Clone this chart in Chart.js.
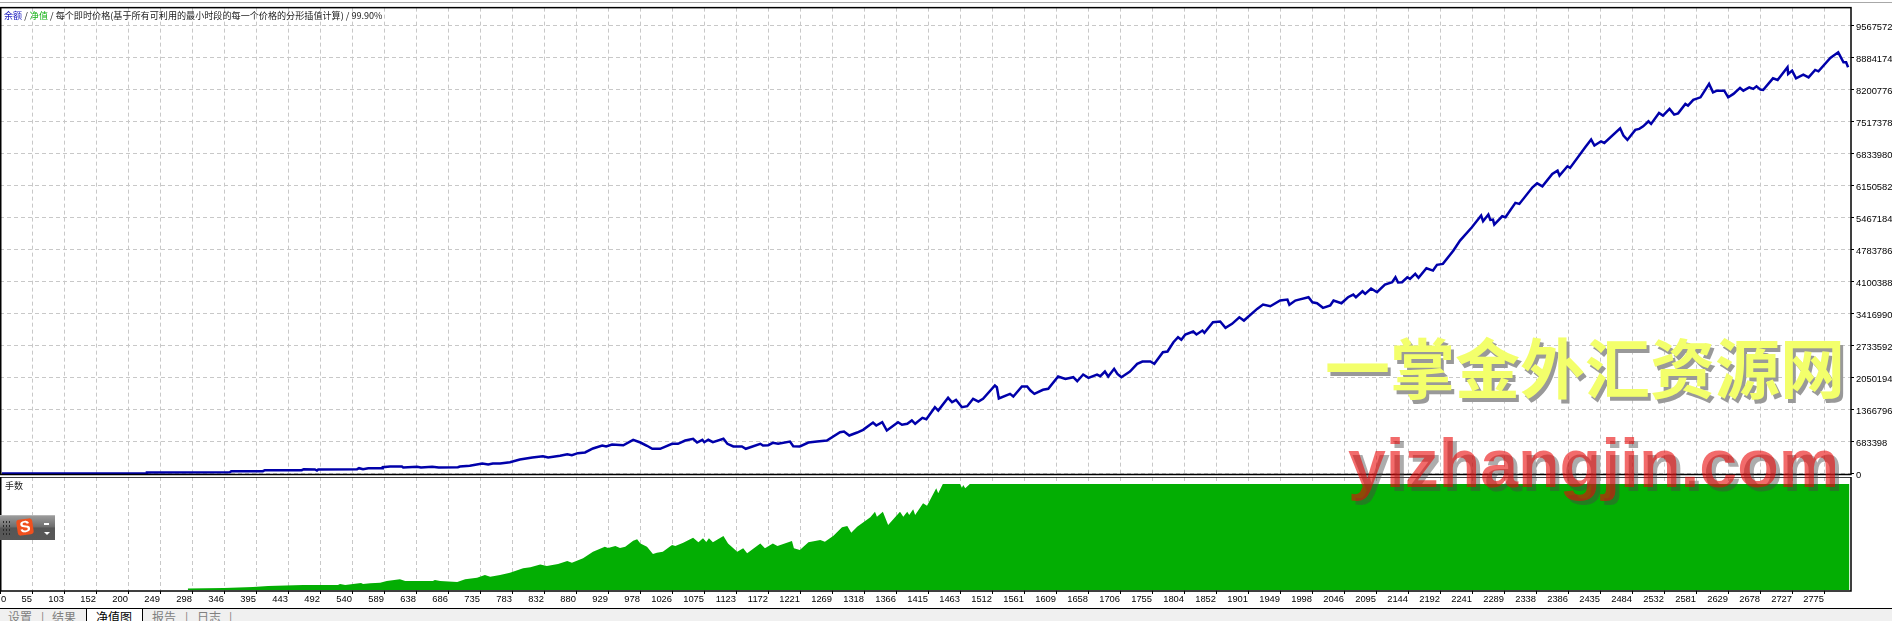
<!DOCTYPE html>
<html>
<head>
<meta charset="utf-8">
<title>净值图</title>
<script src="https://cdn.jsdelivr.net/npm/chart.js@4/dist/chart.umd.min.js"></script>
<style>
	html, body { margin: 0; padding: 0; background: #ffffff; width: 1892px; height: 621px; overflow: hidden; }
	body { position: relative; font-family: "Noto Sans CJK SC", sans-serif; }
	canvas { position: absolute; left: 0; display: block; }
	#graphCanvas { top: 0; }
	#lotsCanvas { top: 477px; }
	.overlay { position: absolute; white-space: nowrap; line-height: 1; }
	#topRule { position: absolute; left: 0; top: 2px; width: 1892px; height: 1px; background: #a8a8a8; }
	#legend { left: 4px; top: 11px; font-size: 9.1px; color: #222222; }
	#lotsLabel { left: 5px; top: 481px; font-size: 9px; color: #222222; }
	#zeroLabel { left: 1px; top: 593px; font: 9.4px "Liberation Sans", sans-serif; color: #000000; }
	#tabStrip { position: absolute; left: 0; top: 608px; width: 1892px; height: 13px; background: #f0f0f0; border-top: 1px solid #000000; overflow: hidden; }
	#tabStrip span { position: absolute; top: 2px; font-size: 12px; line-height: 1; color: #808080; white-space: nowrap; }
	#tabActive { position: absolute; left: 86px; top: -1px; width: 55px; height: 15px; background: #ffffff; border-left: 1px solid #000000; border-right: 1px solid #000000; }
	#brandCn { left: 1325px; top: 333px; font-size: 65px; font-weight: 700; color: #f3ff6b; text-shadow: 3px 4px 0 #999999; }
	#brandEn { left: 1348px; top: 429px; font-family: "Liberation Sans", sans-serif; font-size: 68px; font-weight: 700; color: rgba(233, 8, 8, 0.6); text-shadow: 4px 4px 0 rgba(70, 70, 70, 0.45); }
	#imeBar { position: absolute; left: 0; top: 515px; width: 55px; height: 25px; background: linear-gradient(#9a9a9a 0, #6e6e6e 45%, #565656 50%, #585858 100%); border-top: 1px solid #b5b5b5; box-sizing: border-box; }
	#imeDots { position: absolute; left: 2px; top: 4px; width: 8px; height: 16px; background: radial-gradient(circle, #2a2a2a 1px, transparent 1px) 0 0 / 3px 4px; }
	#imeLogo { position: absolute; left: 17px; top: 3px; width: 16px; height: 16px; background: #f0501e; border-radius: 3px; color: #ffffff; font: 700 16px/16px "Liberation Sans", sans-serif; text-align: center; transform: rotate(-8deg); }
	#imeMinus { position: absolute; left: 44px; top: 7px; width: 5px; height: 2px; background: #ffffff; }
	#imeArrow { position: absolute; left: 44px; top: 16px; width: 0; height: 0; border-left: 3px solid transparent; border-right: 3px solid transparent; border-top: 3px solid #ffffff; }
</style>
</head>
<body>
<div id="topRule"></div>
<canvas id="graphCanvas" width="1892" height="490"></canvas>
<canvas id="lotsCanvas" width="1892" height="131"></canvas>

<div id="legend" class="overlay"><span style="color:#2020c0">余额</span> / <span style="color:#10b010">净值</span> / 每个即时价格(基于所有可利用的最小时段的每一个价格的分形插值计算) / 99.90%</div>
<div id="lotsLabel" class="overlay">手数</div>
<div id="zeroLabel" class="overlay"></div>

<div id="imeBar"><div id="imeDots"></div><div id="imeLogo">S</div><div id="imeMinus"></div><div id="imeArrow"></div></div>

<div id="tabStrip">
	<div id="tabActive"></div>
	<span style="left:8px">设置</span><span style="left:41px">|</span><span style="left:52px">结果</span>
	<span style="left:96px;color:#000000">净值图</span>
	<span style="left:152px">报告</span><span style="left:185px">|</span><span style="left:197px">日志</span><span style="left:229px">|</span>
</div>

<div id="brandCn" class="overlay">一掌金外汇资源网</div>
<div id="brandEn" class="overlay">yizhangjin.com</div>

<script>
//	Tick labels
let xLabels = [0, 55, 103, 152, 200, 249, 298, 346, 395, 443, 492, 540, 589, 638, 686, 735, 783, 832, 880, 929, 978, 1026, 1075, 1123, 1172, 1221, 1269, 1318, 1366, 1415, 1463, 1512, 1561, 1609, 1658, 1706, 1755, 1804, 1852, 1901, 1949, 1998, 2046, 2095, 2144, 2192, 2241, 2289, 2338, 2386, 2435, 2484, 2532, 2581, 2629, 2678, 2727, 2775];
let yLabels = [0, 683398, 1366796, 2050194, 2733592, 3416990, 4100388, 4783786, 5467184, 6150582, 6833980, 7517378, 8200776, 8884174, 9567572];

//	Equity curve (trade number / value in thousands)
let equityTrades = [3, 222, 223, 349, 351, 399, 402, 458, 461, 478, 481, 483, 542, 545, 551, 559, 580, 581, 592, 610, 612, 633, 639, 656, 666, 695, 698, 713, 732, 741, 748, 759, 774, 789, 808, 824, 832, 850, 861, 868, 877, 888, 900, 914, 920, 929, 946, 961, 972, 982, 990, 1002, 1020, 1029, 1040, 1052, 1058, 1066, 1069, 1075, 1082, 1098, 1104, 1113, 1126, 1132, 1154, 1158, 1166, 1173, 1181, 1199, 1204, 1214, 1227, 1240, 1255, 1275, 1281, 1289, 1301, 1310, 1325, 1330, 1339, 1346, 1363, 1369, 1377, 1384, 1389, 1400, 1406, 1419, 1424, 1439, 1445, 1451, 1460, 1468, 1477, 1485, 1492, 1510, 1513, 1516, 1533, 1538, 1551, 1559, 1564, 1570, 1583, 1591, 1606, 1617, 1629, 1635, 1644, 1652, 1665, 1670, 1677, 1682, 1691, 1696, 1702, 1715, 1726, 1734, 1746, 1752, 1765, 1772, 1781, 1788, 1793, 1799, 1811, 1816, 1825, 1828, 1841, 1852, 1860, 1870, 1881, 1888, 1908, 1917, 1928, 1943, 1954, 1957, 1966, 1970, 1986, 1992, 1999, 2008, 2019, 2024, 2036, 2046, 2054, 2058, 2068, 2072, 2081, 2090, 2102, 2113, 2118, 2122, 2128, 2136, 2140, 2148, 2153, 2165, 2175, 2181, 2190, 2206, 2216, 2234, 2248, 2251, 2259, 2262, 2266, 2268, 2280, 2285, 2300, 2306, 2326, 2333, 2341, 2356, 2364, 2367, 2379, 2383, 2406, 2415, 2420, 2430, 2435, 2459, 2464, 2470, 2482, 2488, 2494, 2502, 2506, 2518, 2524, 2534, 2541, 2547, 2558, 2562, 2570, 2581, 2594, 2600, 2606, 2617, 2623, 2631, 2641, 2646, 2655, 2661, 2666, 2672, 2676, 2691, 2698, 2713, 2714, 2720, 2726, 2737, 2745, 2755, 2760, 2778, 2790, 2798, 2802, 2805];
let equityThousands = [6, 6, 28, 34, 55, 55, 77, 77, 98, 92, 70, 92, 98, 120, 98, 120, 120, 141, 156, 156, 134, 149, 134, 149, 134, 141, 156, 171, 220, 198, 220, 220, 248, 305, 348, 376, 348, 384, 418, 397, 440, 455, 540, 604, 583, 625, 610, 726, 668, 598, 534, 534, 640, 640, 711, 747, 668, 726, 674, 726, 674, 747, 640, 583, 583, 534, 640, 604, 610, 662, 640, 689, 589, 583, 668, 689, 711, 888, 903, 817, 881, 939, 1095, 1031, 1101, 924, 1101, 1046, 1067, 1138, 1067, 1195, 1165, 1421, 1351, 1622, 1528, 1579, 1421, 1443, 1601, 1543, 1601, 1885, 1848, 1607, 1707, 1650, 1863, 1863, 1778, 1707, 1793, 1814, 2077, 2027, 2062, 1976, 2119, 2049, 2119, 2083, 2183, 2077, 2241, 2134, 2062, 2183, 2348, 2397, 2397, 2348, 2595, 2610, 2809, 2915, 2860, 2973, 3037, 2973, 3058, 3009, 3235, 3250, 3116, 3201, 3342, 3272, 3521, 3613, 3577, 3699, 3720, 3607, 3699, 3713, 3769, 3662, 3641, 3543, 3592, 3699, 3641, 3769, 3827, 3769, 3897, 3842, 3955, 3876, 4040, 4089, 4196, 4083, 4089, 4196, 4162, 4268, 4183, 4388, 4339, 4460, 4482, 4766, 4979, 5263, 5513, 5391, 5534, 5421, 5427, 5320, 5498, 5476, 5784, 5762, 6117, 6202, 6138, 6403, 6473, 6366, 6565, 6531, 6970, 7135, 7007, 7098, 7064, 7376, 7220, 7128, 7342, 7363, 7418, 7525, 7470, 7704, 7647, 7790, 7668, 7696, 7897, 7861, 7982, 8037, 8323, 8144, 8180, 8180, 8037, 8110, 8238, 8180, 8251, 8217, 8272, 8202, 8195, 8443, 8409, 8678, 8537, 8607, 8443, 8521, 8464, 8622, 8592, 8878, 8998, 8784, 8784, 8678];

//	Lots panel
let lotTrades = [285, 340, 384, 407, 460, 513, 516, 524, 536, 548, 551, 562, 577, 587, 607, 615, 657, 660, 668, 694, 706, 724, 736, 744, 759, 774, 794, 805, 820, 830, 847, 861, 868, 885, 900, 918, 923, 934, 941, 949, 961, 967, 972, 982, 991, 997, 1006, 1020, 1025, 1037, 1052, 1060, 1067, 1072, 1076, 1082, 1098, 1105, 1119, 1128, 1134, 1154, 1161, 1173, 1180, 1202, 1205, 1214, 1227, 1245, 1252, 1265, 1278, 1286, 1292, 1301, 1321, 1328, 1331, 1340, 1348, 1366, 1371, 1377, 1380, 1386, 1389, 1401, 1407, 1421, 1424, 1431, 1457, 1460, 1462, 1465, 1472, 2807];
let lotValues = [1.4, 1.9, 2.8, 3.8, 4.7, 4.7, 5.7, 4.7, 5.7, 6.6, 5.7, 6.3, 6.9, 8.5, 10.1, 8.5, 8.5, 9.4, 8.5, 7.5, 10.1, 11.6, 14.1, 12.5, 14.1, 16.3, 20.5, 21.4, 24.2, 22.6, 24.5, 27.3, 25.7, 29.9, 36.1, 40.8, 39.6, 41.5, 39.6, 40.8, 46.5, 47.8, 44, 40.8, 33.9, 35.2, 36.1, 42.4, 41.5, 44.6, 49.3, 45, 48.8, 45.3, 48.8, 45, 50.9, 44, 36.1, 39.3, 34.6, 44, 39.3, 44, 41.5, 46.2, 39.3, 37.7, 45, 47.2, 45.5, 51.2, 59.1, 60.4, 54, 59.7, 68.6, 73.8, 69.1, 73.8, 61.3, 73.8, 69.1, 73.8, 70.7, 76.1, 70.7, 81.8, 79.5, 95.9, 91.2, 100, 100, 96.5, 99, 95.9, 100, 100];

let plotColors = {
	equity: '#0000aa',
	lots: '#03ae03',
	grid: '#c8c8c8'
};

let tickFont = { family: '"Liberation Sans", sans-serif', size: 9.4 };
let gridDash = [4, 3];
let xStep = 48.57;	// trades between two grid lines
let xMax = 2809.4;

// Formatters/Utilities
var toPoints = function (xs, ys, factor) {
	return xs.map(function (x, i) {
		return { x: x, y: ys[i] * factor };
	});
};

// frame round the plot area
var framePlugin = {
	id: 'frame',
	afterDraw: function (chart) {
		let area = chart.chartArea;
		let ctx = chart.ctx;
		ctx.save();
		ctx.strokeStyle = '#000000';
		ctx.lineWidth = 1.5;
		ctx.strokeRect(area.left + 0.75, area.top, area.width - 0.75, area.height);
		ctx.restore();
	}
};

// x axis shared by both panels, grid lines are evenly spaced, labels come from xLabels
var xAxis = function (height, showLabels) {
	return {
		type: 'linear',
		min: 0,
		max: xMax,
		afterBuildTicks: function (scale) {
			scale.ticks = xLabels.map(function (label, i) {
				return { value: i * xStep };
			});
		},
		afterFit: function (scale) {
			scale.height = height;
		},
		border: { display: false, dash: gridDash },
		grid: {
			color: plotColors.grid,
			lineWidth: 1,
			drawTicks: showLabels,
			tickLength: 3,
			tickColor: '#000000',
			tickBorderDash: []
		},
		ticks: {
			display: showLabels,
			autoSkip: false,
			maxRotation: 0,
			align: 'end',
			padding: 0,
			color: '#000000',
			font: tickFont,
			callback: function (value, index) {
				return index == 0 ? '' : String(xLabels[index]);
			}
		}
	};
};

var renderGraph = function () {
	Chart.defaults.animation = false;
	Chart.defaults.responsive = false;
	Chart.defaults.plugins.legend.display = false;
	Chart.defaults.plugins.tooltip.enabled = false;

	new Chart(document.getElementById('graphCanvas'), {
		type: 'line',
		data: {
			datasets: [{
				label: '净值',
				data: toPoints(equityTrades, equityThousands, 1000),
				borderColor: plotColors.equity,
				borderWidth: 2.5,
				pointRadius: 0,
				tension: 0,
				fill: false
			}]
		},
		options: {
			layout: { padding: { top: 7 } },
			scales: {
				x: xAxis(15.5, false),
				y: {
					type: 'linear',
					position: 'right',
					min: -15000,
					max: 9952000,
					afterBuildTicks: function (scale) {
						scale.ticks = yLabels.map(function (v) { return { value: v }; });
					},
					afterFit: function (scale) {
						scale.width = 41;
					},
					border: { display: false, dash: gridDash },
					grid: {
						color: plotColors.grid,
						lineWidth: 1,
						tickLength: 3,
						tickColor: '#000000',
						tickBorderDash: []
					},
					ticks: {
						autoSkip: false,
						padding: 2,
						labelOffset: 1.5,
						color: '#000000',
						font: tickFont,
						callback: function (value) { return String(value); }
					}
				}
			}
		},
		plugins: [framePlugin]
	});

	new Chart(document.getElementById('lotsCanvas'), {
		type: 'line',
		data: {
			datasets: [{
				label: '手数',
				data: toPoints(lotTrades, lotValues, 1),
				borderColor: plotColors.lots,
				backgroundColor: plotColors.lots,
				borderWidth: 0,
				pointRadius: 0,
				tension: 0,
				fill: 'origin'
			}]
		},
		options: {
			scales: {
				x: xAxis(17, true),
				y: {
					type: 'linear',
					position: 'right',
					min: -0.9,
					max: 106.6,
					afterFit: function (scale) {
						scale.width = 41;
					},
					border: { display: false },
					grid: { display: false },
					ticks: { display: false }
				}
			}
		},
		plugins: [framePlugin]
	});

	document.getElementById('zeroLabel').textContent = xLabels[0];
};

renderGraph();
</script>
</body>
</html>
